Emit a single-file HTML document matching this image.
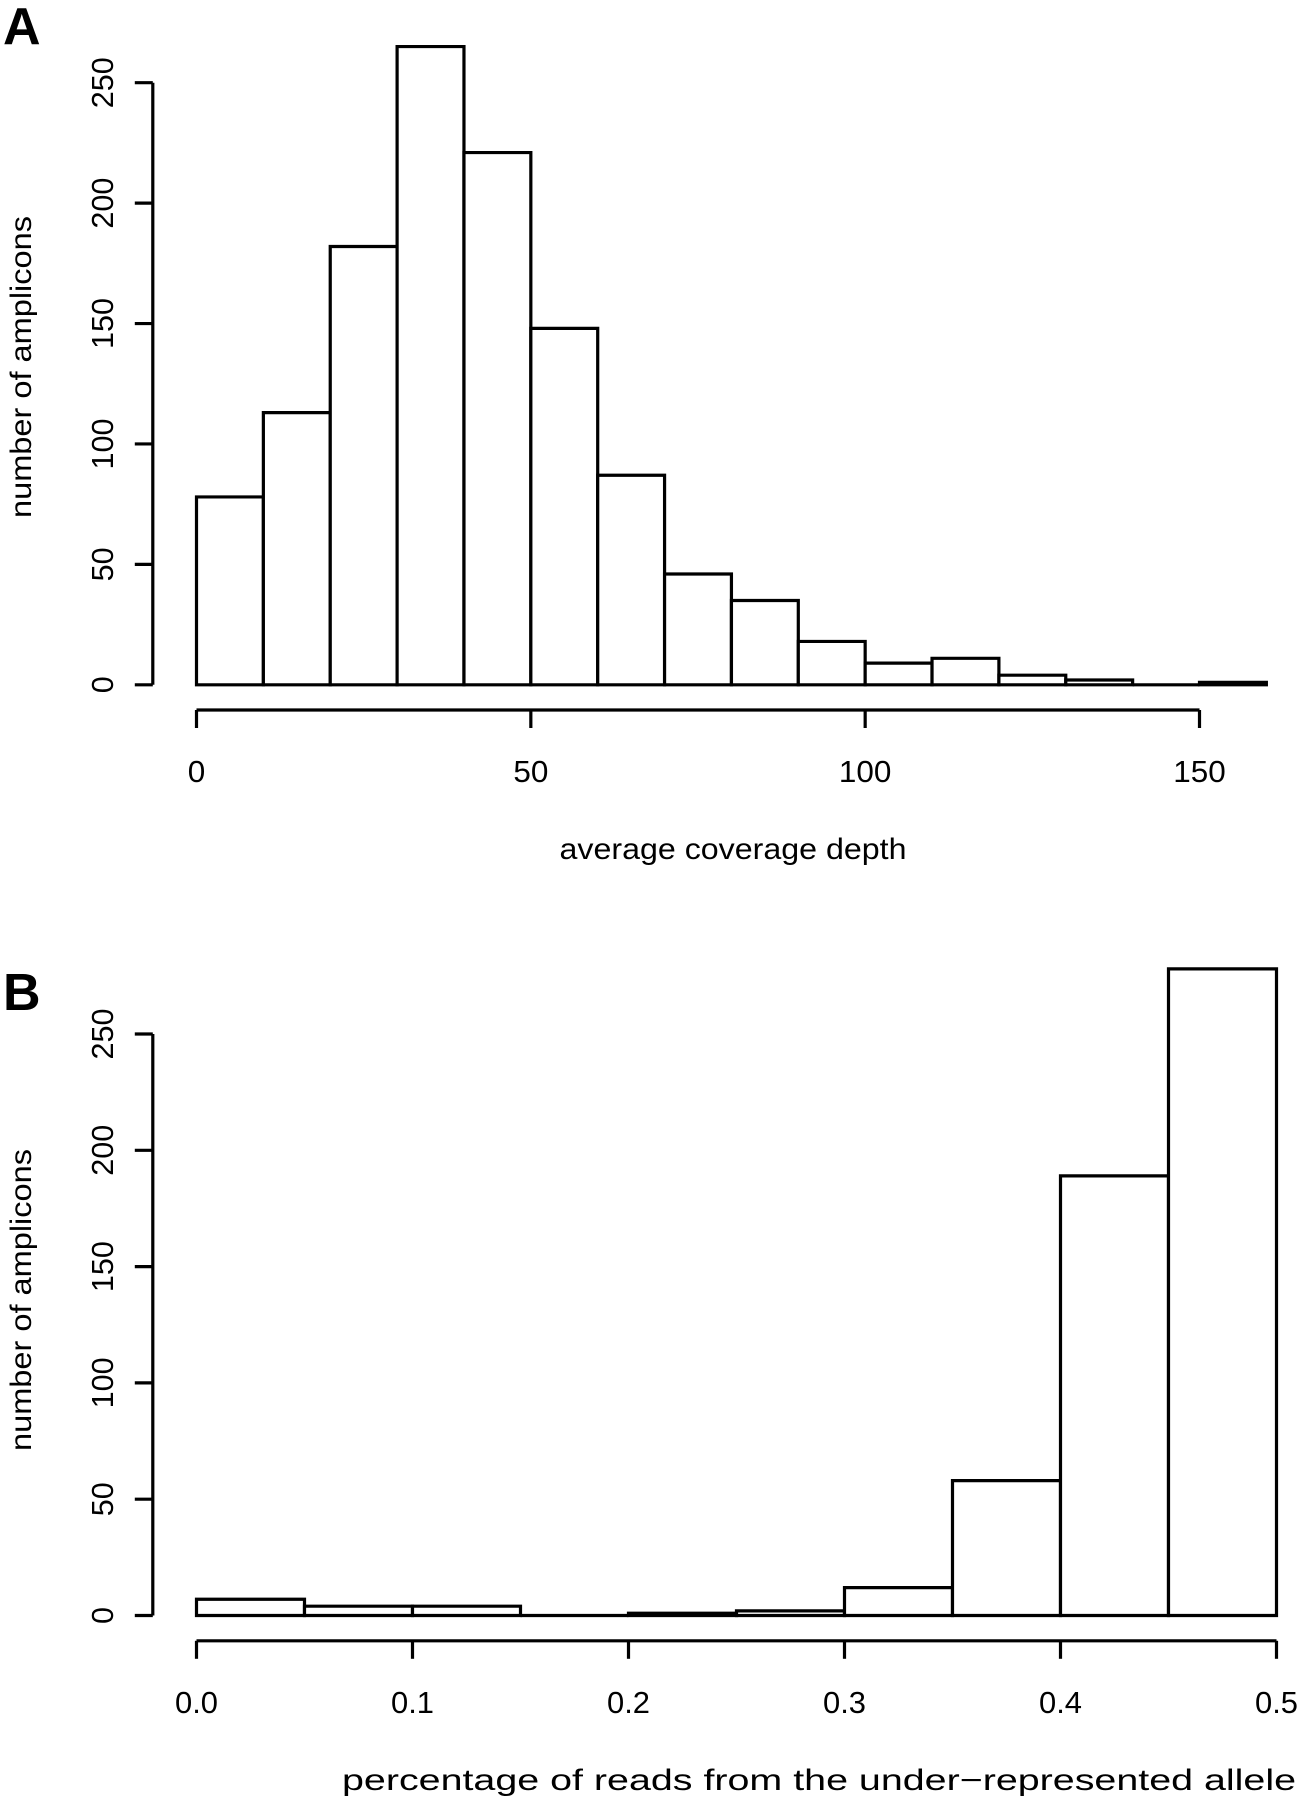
<!DOCTYPE html>
<html><head><meta charset="utf-8"><style>
html,body{margin:0;padding:0;background:#fff;}
svg{display:block;font-family:"Liberation Sans",Arial,sans-serif;}
</style></head><body>
<svg id="chart" width="1302" height="1800" viewBox="0 0 1302 1800">
<text x="3" y="44" font-size="52" font-weight="bold">A</text>
<text x="3" y="1010" font-size="52" font-weight="bold">B</text>
<g id="pa"></g>
<g id="pb"></g>
</svg>
<script>
const aCounts=[78,113,182,265,221,148,87,46,35,18,9,11,4,2,0,1];
const aBinStart=0, aBinWidth=10;
const aXTicks=[0,50,100,150];
const aYTicks=[0,50,100,150,200,250];
const bCounts=[7,4,4,0,1,2,12,58,189,278];
const bBinStart=0, bBinWidth=0.05;
const bXTicks=["0.0","0.1","0.2","0.3","0.4","0.5"];
const bYTicks=[0,50,100,150,200,250];

const NS="http://www.w3.org/2000/svg";
function mk(parent,tag,attrs,txt){const e=document.createElementNS(NS,tag);for(const k in attrs)e.setAttribute(k,attrs[k]);if(txt!==undefined)e.textContent=txt;parent.appendChild(e);return e;}
function tw(s){let w=0;for(const ch of s)w+=(ch==='.')?8:17.5;return w;}

function drawPanel(g,counts,binStart,binWidth,xTicks,yTicks,cfg){
  const sx=v=>cfg.x0+(v-cfg.xmin)/(cfg.xmax-cfg.xmin)*(cfg.x1-cfg.x0);
  const sy=v=>cfg.y0-v/250*(cfg.y0-cfg.y250);
  counts.forEach((c,i)=>{
    const l=sx(binStart+i*binWidth), r=sx(binStart+(i+1)*binWidth);
    const b=mk(g,'path',{d:`M${l},${sy(0)} V${sy(c)} H${r} V${sy(0)} Z`,fill:'#fff',stroke:'#000','stroke-width':3.2,'stroke-linejoin':'miter'});
    
    
  });
  const ya=mk(g,'line',{x1:cfg.yax,x2:cfg.yax,y1:sy(yTicks[0]),y2:sy(yTicks[yTicks.length-1]),stroke:'#000','stroke-width':3.2});
  
  
  yTicks.forEach(t=>{
    mk(g,'line',{x1:cfg.yax-18,x2:cfg.yax,y1:sy(t),y2:sy(t),stroke:'#000','stroke-width':3.2});
    const s=String(t);
    const lb=mk(g,'text',{x:0,y:0,'font-size':31,'text-anchor':'middle',textLength:s.length*17,lengthAdjust:'spacingAndGlyphs',transform:`translate(${cfg.yax-40},${sy(t)}) rotate(-90)`},s);
    
    
  });
  const xv=xTicks.map(Number);
  const xa=mk(g,'line',{x1:sx(xv[0]),x2:sx(xv[xv.length-1]),y1:cfg.xay,y2:cfg.xay,stroke:'#000','stroke-width':3.2});
  
  
  xTicks.forEach(t=>{
    const v=Number(t);
    mk(g,'line',{x1:sx(v),x2:sx(v),y1:cfg.xay,y2:cfg.xay+18,stroke:'#000','stroke-width':3.2});
    const s=String(t);
    const lb=mk(g,'text',{x:sx(v),y:cfg.xay+72,'font-size':31,'text-anchor':'middle',textLength:tw(s),lengthAdjust:'spacingAndGlyphs'},s);
    
    
  });
  const xt=mk(g,'text',{x:cfg.xtx,y:cfg.xty,'font-size':30,'text-anchor':'middle',textLength:cfg.xtl,lengthAdjust:'spacingAndGlyphs'},cfg.xtitle);
  
  
  const yt=mk(g,'text',{x:0,y:0,'font-size':30,'text-anchor':'middle',textLength:302,lengthAdjust:'spacingAndGlyphs',transform:`translate(${cfg.ytx},${cfg.yty}) rotate(-90)`},'number of amplicons');
  
  
}
drawPanel(document.getElementById('pa'),aCounts,aBinStart,aBinWidth,aXTicks,aYTicks,
  {x0:196.5,x1:1199.5,xmin:0,xmax:150,y0:684.8,y250:82.7,yax:152.8,xay:710,xtx:733,xty:859,xtl:347,xtitle:'average coverage depth',ytx:31,yty:367});
drawPanel(document.getElementById('pb'),bCounts,bBinStart,bBinWidth,bXTicks,bYTicks,
  {x0:196.5,x1:1276.5,xmin:0,xmax:0.5,y0:1615.5,y250:1034,yax:152.8,xay:1640.8,xtx:819,xty:1790,xtl:954,xtitle:'percentage of reads from the under\u2212represented allele',ytx:31,yty:1300});
</script>
</body></html>
